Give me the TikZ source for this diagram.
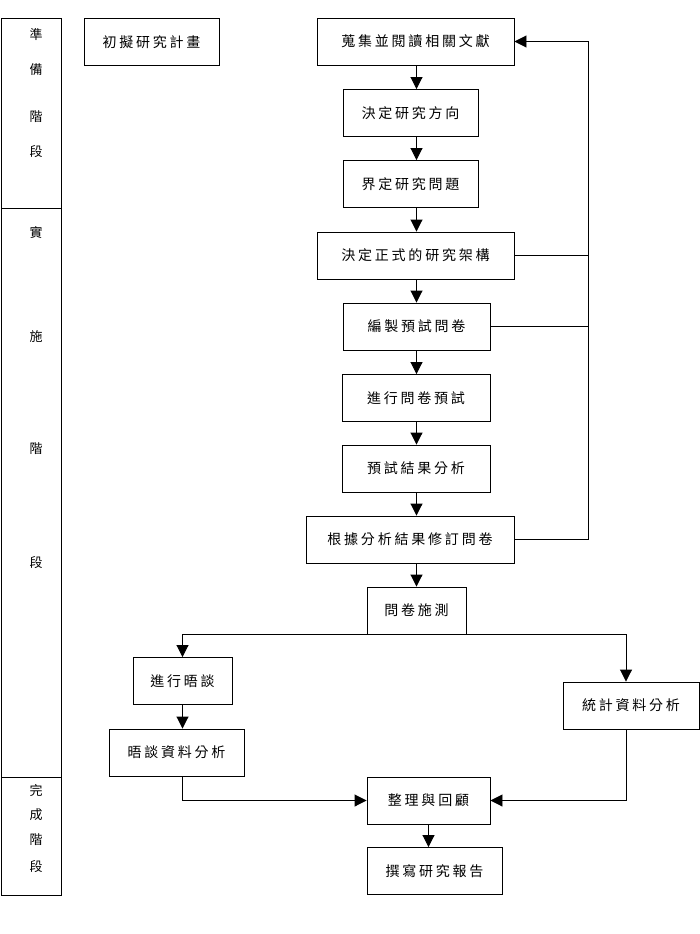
\documentclass[tikz,border=0pt]{standalone}
\usepackage{fontspec}
\usetikzlibrary{arrows.meta,positioning}
\newfontfamily\cjk[LetterSpace=20]{Noto Sans CJK TC}
\tikzset{
  box/.style={draw, line width=0.9pt, minimum height=47pt, inner sep=0pt,
              font=\cjk\fontsize{14}{16}\selectfont},
  stagebox/.style={draw, line width=0.9pt, inner sep=0pt, minimum width=60pt},
  stagechar/.style={font=\cjk\fontsize{13}{15}\selectfont},
  arrow/.style={-{Triangle[length=12pt,width=12pt]}, line width=0.9pt},
  link/.style={line width=0.9pt}
}
\begin{document}
\begin{tikzpicture}[x=1pt, y=-1pt]
\useasboundingbox (0,0) rectangle (700,934);
% stages on the left
\node[stagebox, minimum height=190pt, anchor=north west] (prep) at (0.5,18) {};
\node[stagebox, minimum height=569pt, anchor=north west] (impl) at (0.5,208) {};
\node[stagebox, minimum height=118pt, anchor=north west] (done) at (0.5,777) {};
\foreach \ch/\y in {準/35, 備/70, 階/117, 段/152, 實/233, 施/337, 階/449, 段/563,
                     完/790, 成/815, 階/840, 段/867}
  \node[stagechar] at (36,\y) {\ch};
% main column
\node[box, minimum width=135pt] (plan) at (151.5,42) {初擬研究計畫};
\node[box, minimum width=197pt] (lit) at (415.5,41.5) {蒐集並閱讀相關文獻};
\node[box, minimum width=135pt] (dir) at (410.5,113) {決定研究方向};
\node[box, minimum width=135pt] (prob) at (410.5,184) {界定研究問題};
\node[box, minimum width=197pt] (frame) at (415.5,255.5) {決定正式的研究架構};
\node[box, minimum width=147pt] (draft) at (416.5,326.5) {編製預試問卷};
\node[box, minimum width=148pt] (pilot) at (416,398) {進行問卷預試};
\node[box, minimum width=148pt] (pres) at (416,468.5) {預試結果分析};
\node[box, minimum width=208pt] (revise) at (410,539.5) {根據分析結果修訂問卷};
\node[box, minimum width=99pt] (survey) at (416.5,610.5) {問卷施測};
% two branches
\node[box, minimum width=99pt] (interview) at (182.5,681) {進行晤談};
\node[box, minimum width=135pt] (ianal) at (176.5,752.5) {晤談資料分析};
\node[box, minimum width=136pt] (stat) at (631,705.5) {統計資料分析};
\node[box, minimum width=123pt] (review) at (428.5,800.5) {整理與回顧};
\node[box, minimum width=135pt] (report) at (434.5,871) {撰寫研究報告};
\coordinate (fb) at (588.5,41.5);
% arrows down the column
\foreach \a/\b in {lit/dir, dir/prob, prob/frame, frame/draft, draft/pilot,
                   pilot/pres, pres/revise, revise/survey}
  \draw[arrow] (survey.south |- \a.south) -- (survey.south |- \b.north);
% feedback to the literature
\draw[arrow] (revise.east) -| (fb) -- (lit.east);
\draw[link] (frame.east) -- (frame.east -| fb);
\draw[link] (draft.east) -- (draft.east -| fb);
% split after the survey
\draw[arrow] (survey.south) -| (interview.north);
\draw[arrow] (survey.south) -| ([xshift=-5pt]stat.north);
\draw[arrow] (interview.south) -- (interview.south |- ianal.north);
\draw[arrow] (interview.south |- ianal.south) |- (review.west);
\draw[arrow] ([xshift=-5pt]stat.south) |- (review.east);
\draw[arrow] (review.south) -- (review.south |- report.north);
\end{tikzpicture}
\end{document}
